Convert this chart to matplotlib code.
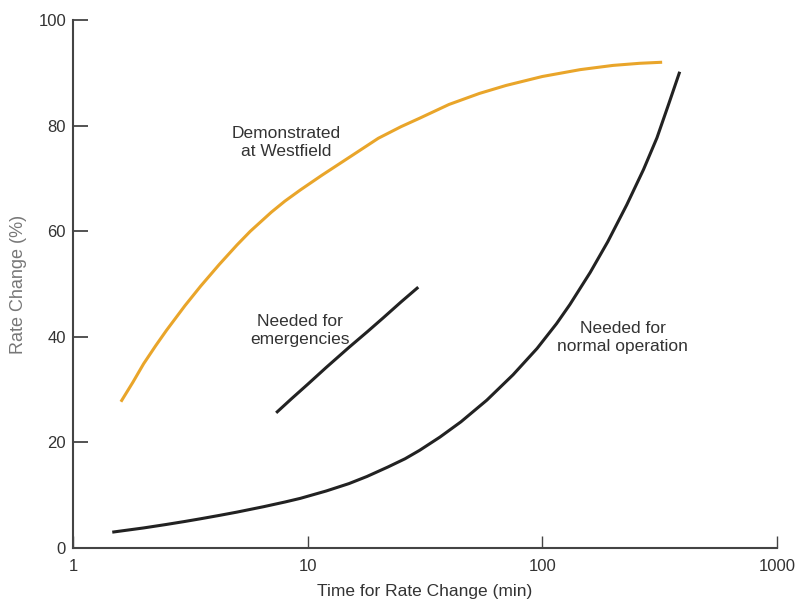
import matplotlib
matplotlib.use("Agg")
import matplotlib.pyplot as plt

plt.rcParams['font.family'] = ['Liberation Sans', 'DejaVu Sans']

# Data
west_x = [1.6, 1.8, 2.0, 2.25, 2.5, 3.0, 3.5, 4.2, 5.0, 5.7, 7.0, 8.0, 9.3,
          11.5, 14.7, 20, 25, 30, 40, 54, 70, 100, 145, 200, 260, 324]
west_y = [27.7, 31.4, 34.9, 38.3, 41.2, 45.9, 49.6, 53.7, 57.4, 60.0, 63.6, 65.7, 67.8,
          70.6, 73.7, 77.6, 79.8, 81.4, 84.0, 86.1, 87.6, 89.3, 90.6, 91.4, 91.8, 92.0]

emerg_x = [7.34, 8.5, 10, 12, 15, 18, 21, 25, 29.6]
emerg_y = [25.6, 28.2, 31.0, 34.2, 38.0, 41.0, 43.6, 46.6, 49.4]

normal_x = [1.47, 2.0, 2.5, 3.0, 3.5, 4.2, 5.0, 6.5, 8.0, 9.3, 12, 15, 17.9, 22, 26,
            30, 36.6, 45, 58, 75, 95, 115, 131, 160, 190, 229, 270, 308, 345, 385]
normal_y = [3.0, 3.8, 4.46, 5.03, 5.54, 6.17, 6.8, 7.83, 8.71, 9.4, 10.8, 12.2, 13.55, 15.35, 16.9,
            18.5, 21.0, 23.9, 28.0, 32.8, 37.8, 42.5, 46.1, 52.2, 58.0, 65.0, 71.7, 77.7, 84.0, 90.2]

x_ticks = [1, 10, 100, 1000]
x_ticklabels = ['1', '10', '100', '1000']
y_ticks = [0, 20, 40, 60, 80, 100]

fig = plt.figure(figsize=(7.97, 6.01), dpi=100)
ax = fig.add_axes([73/797, 1-548/601, (777-73)/797, (548-20)/601])

orange = '#E9A52A'
dark = '#222222'
kw = dict(lw=2.2, solid_capstyle='butt', solid_joinstyle='round')
ax.plot(west_x, west_y, color=orange, **kw)
ax.plot(emerg_x, emerg_y, color=dark, **kw)
ax.plot(normal_x, normal_y, color=dark, **kw)

ax.set_xscale('log')
ax.set_xlim(1, 1000)
ax.set_ylim(0, 100)
ax.set_xticks(x_ticks)
ax.set_xticklabels(x_ticklabels)
ax.minorticks_off()
ax.set_yticks(y_ticks)

for s in ['top', 'right']:
    ax.spines[s].set_visible(False)
for s in ['left', 'bottom']:
    ax.spines[s].set_color('#444444')
    ax.spines[s].set_linewidth(1.5)

ax.tick_params(axis='y', direction='in', length=11, width=1.3, color='#444444',
               labelsize=12, labelcolor='#333333', pad=5)
ax.tick_params(axis='x', direction='in', length=9, width=1.0, color='#444444',
               labelsize=12, labelcolor='#333333', pad=8)

ax.set_xlabel('Time for Rate Change (min)', fontsize=12.5, color='#333333', labelpad=7)
ax.set_ylabel('Rate Change (%)', fontsize=13, color='#777777', labelpad=8)

tkw = dict(ha='center', va='center', fontsize=12.5, color='#333333', linespacing=1.3)
ax.text(8.1, 76.8, 'Demonstrated\nat Westfield', **tkw)
ax.text(9.27, 41.2, 'Needed for\nemergencies', **tkw)
ax.text(220, 39.9, 'Needed for\nnormal operation', **tkw)

fig.savefig('out.png', dpi=100)
